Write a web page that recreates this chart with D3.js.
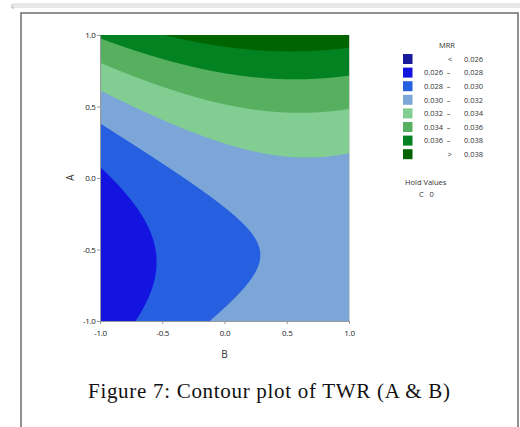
<!DOCTYPE html>
<html>
<head>
<meta charset="utf-8">
<script src="https://cdn.jsdelivr.net/npm/d3@7"></script>
<style>
  body { margin: 0; background: #fff; }
  svg { display: block; }
</style>
</head>
<body>
<script>
const width = 520
const height = 427

// contour levels of MRR and the colour of each band (below first .. above last)
const thresholds = [0.026, 0.028, 0.030, 0.032, 0.034, 0.036, 0.038]
const bandColors = ["#1a1a9c", "#1414e0", "#2660e0", "#7ca6d8", "#82cd92", "#56b05f", "#038222", "#006400"]

// fitted response surface in coded units (C held at 0)
const termNames = ["const", "A", "B", "A*A", "B*B", "A*B"]
const termCoefs = [0.030726, 0.00434, 0.001806, 0.00390, -0.00132, -0.00045]

const xTicks = [-1, -0.5, 0, 0.5, 1]
const yTicks = [-1, -0.5, 0, 0.5, 1]
const holdNames = ["C"]
const holdValues = [0]

const caption = "Figure 7: Contour plot of TWR (A & B)"

const plot = {left: 100, right: 349, top: 35, bottom: 321}
const x = d3.scaleLinear().domain([-1, 1]).range([plot.left, plot.right])
const y = d3.scaleLinear().domain([-1, 1]).range([plot.bottom, plot.top])

const terms = (a, b) => [1, a, b, a * a, b * b, a * b]
const surface = (a, b) => d3.sum(terms(a, b), (t, i) => t * termCoefs[i])

// sample the surface on a grid and contour it
const n = 250, m = 286
const gx = d3.scaleLinear().domain([0, n]).range([plot.left, plot.right])
const gy = d3.scaleLinear().domain([0, m]).range([plot.top, plot.bottom])
const values = new Array(n * m)
for (let j = 0; j < m; j++) {
  for (let i = 0; i < n; i++) {
    const b = x.invert(gx(i + 0.5))
    const a = y.invert(gy(j + 0.5))
    values[j * n + i] = surface(a, b)
  }
}
const contours = d3.contours().size([n, m]).thresholds(thresholds)(values)
const path = d3.geoPath(d3.geoTransform({
  point(px, py) { this.stream.point(gx(px), gy(py)) }
}))

const svg = d3.select("body").append("svg")
    .attr("width", width)
    .attr("height", height)
    .attr("viewBox", [0, 0, width, height])

// page chrome
svg.append("rect")
    .attr("x", 13).attr("y", 3).attr("width", 507).attr("height", 5)
    .attr("fill", "#e8e8e8")
svg.append("path")
    .attr("d", "M12,4V8H14")
    .attr("fill", "none").attr("stroke", "#999").attr("stroke-width", 0.8)
svg.append("rect")
    .attr("x", 21).attr("y", 13).attr("width", 497).attr("height", 430)
    .attr("fill", "#fff").attr("stroke", "#6e6e6e").attr("stroke-width", 1.5)

svg.append("clipPath").attr("id", "clip")
  .append("rect")
    .attr("x", plot.left).attr("y", plot.top)
    .attr("width", plot.right - plot.left).attr("height", plot.bottom - plot.top)

const g = svg.append("g").attr("clip-path", "url(#clip)")
g.append("rect")
    .attr("x", plot.left).attr("y", plot.top)
    .attr("width", plot.right - plot.left).attr("height", plot.bottom - plot.top)
    .attr("fill", bandColors[0])
g.selectAll("path")
  .data(contours)
  .join("path")
    .attr("d", path)
    .attr("fill", (d, i) => bandColors[i + 1])

// right edge of frame
svg.append("line")
    .attr("x1", plot.right + 0.5).attr("x2", plot.right + 0.5)
    .attr("y1", plot.top).attr("y2", plot.bottom)
    .attr("stroke", "#d0d0d0")

const fmt = d => d.toFixed(1)
const styleAxis = ax => {
  ax.select(".domain").attr("stroke", "#999")
  ax.selectAll(".tick line").attr("stroke", "#999")
  ax.selectAll(".tick text")
      .attr("fill", "#222")
      .attr("font-family", "'Open Sans', sans-serif")
      .attr("font-size", 8)
      .attr("letter-spacing", -0.3)
}

svg.append("g")
    .attr("transform", `translate(${plot.left},0)`)
    .call(d3.axisLeft(y).tickValues(yTicks).tickFormat(fmt).tickSize(3).tickPadding(1.5).tickSizeOuter(0))
    .call(styleAxis)

svg.append("g")
    .attr("transform", `translate(0,${plot.bottom})`)
    .call(d3.axisBottom(x).tickValues(xTicks).tickFormat(fmt).tickSize(3).tickPadding(6).tickSizeOuter(0))
    .call(styleAxis)

svg.append("text")
    .attr("transform", `translate(73.5,177.5) rotate(-90)`)
    .attr("text-anchor", "middle")
    .attr("font-family", "'Open Sans', sans-serif")
    .attr("font-size", 10)
    .attr("fill", "#333")
    .text("A")

svg.append("text")
    .attr("x", (plot.left + plot.right) / 2)
    .attr("y", 357.5)
    .attr("text-anchor", "middle")
    .attr("font-family", "'Open Sans', sans-serif")
    .attr("font-size", 10)
    .attr("fill", "#333")
    .text("B")

// legend
const legend = svg.append("g")
    .attr("font-family", "'Open Sans', sans-serif")
    .attr("font-size", 7.5)
    .attr("fill", "#333")
legend.append("text")
    .attr("x", 447).attr("y", 47.5)
    .attr("text-anchor", "middle")
    .text("MRR")

const f3 = d3.format(".3f")
const rows = bandColors.map((c, i) => ({
  color: c,
  lo: i === 0 ? "<" : (i === bandColors.length - 1 ? ">" : f3(thresholds[i - 1])),
  hi: i === bandColors.length - 1 ? f3(thresholds[i - 1]) : f3(thresholds[i]),
  sep: i > 0 && i < bandColors.length - 1
}))
const row = legend.selectAll("g.row")
  .data(rows)
  .join("g")
    .attr("class", "row")
    .attr("transform", (d, i) => `translate(0,${59 + i * 13.6})`)
row.append("rect")
    .attr("x", 403).attr("y", -5).attr("width", 9.5).attr("height", 10)
    .attr("fill", d => d.color)
row.append("text")
    .attr("x", d => d.sep ? 443 : 452)
    .attr("y", 2.7)
    .attr("text-anchor", "end")
    .text(d => d.lo)
row.filter(d => d.sep).append("text")
    .attr("x", 448.5).attr("y", 2.7)
    .attr("text-anchor", "middle")
    .text("\u2013")
row.append("text")
    .attr("x", 483).attr("y", 2.7)
    .attr("text-anchor", "end")
    .text(d => d.hi)

legend.append("text")
    .attr("x", 405).attr("y", 184.5)
    .text("Hold Values")
legend.selectAll("text.hold")
  .data(holdNames)
  .join("text")
    .attr("class", "hold")
    .attr("x", 419).attr("y", (d, i) => 197 + i * 12)
    .text((d, i) => `${d}   ${holdValues[i]}`)
    .attr("xml:space", "preserve")

svg.append("text")
    .attr("x", 88).attr("y", 398)
    .attr("font-family", "'Liberation Serif', 'Times New Roman', serif")
    .attr("font-size", 21)
    .attr("textLength", 362)
    .attr("lengthAdjust", "spacing")
    .attr("fill", "#111")
    .text(caption)
</script>
</body>
</html>
